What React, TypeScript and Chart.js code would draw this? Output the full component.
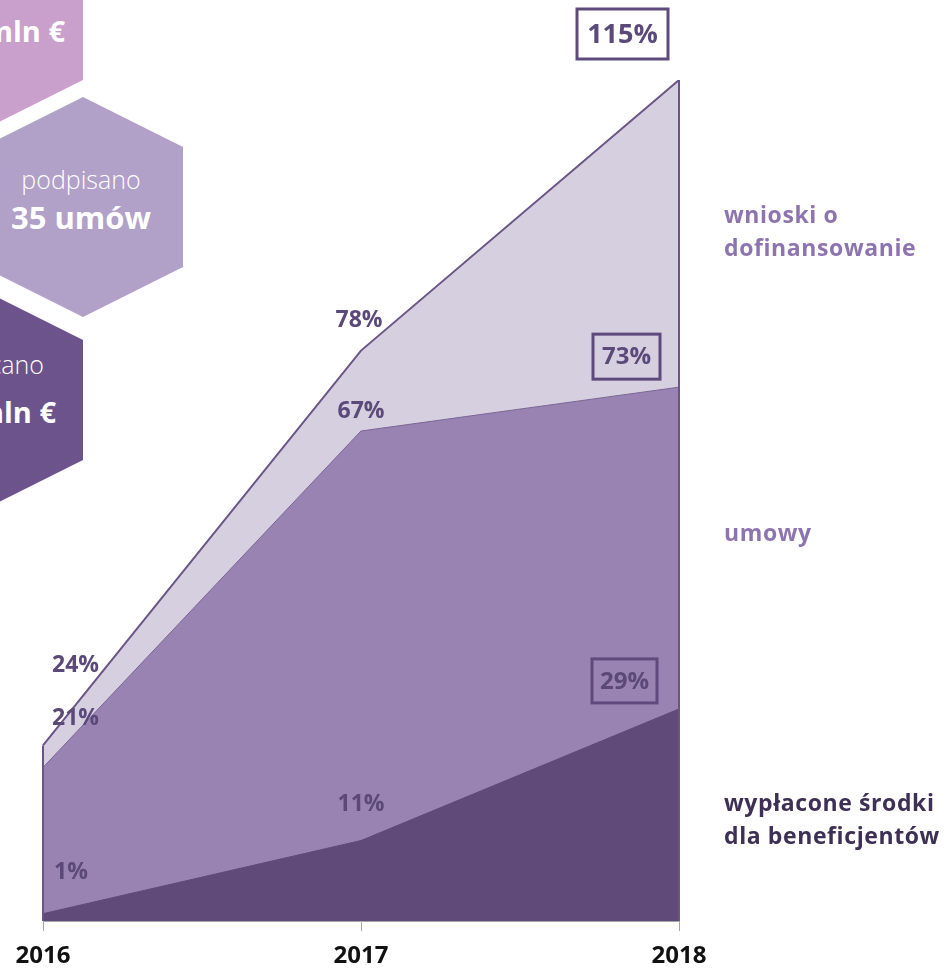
import React, { useEffect, useRef } from "react";
import { Chart, registerables } from "chart.js";

Chart.register(...registerables);

const years = ["2016", "2017", "2018"];
const wnioski = [24, 78, 115];
const umowy = [21, 67, 73];
const wyplacone = [1, 11, 29];

const FONT = "'Open Sans', 'DejaVu Sans', sans-serif";
const LABEL_COLOR = "#5B4979";

// label placement relative to each data point (styling only)
type Spec = { dx: number; dy: number; align: CanvasTextAlign; size: number; box?: [number, number] };
const LABEL_LAYOUT: Spec[][] = [
  // wyplacone
  [
    { dx: 11, dy: -42, align: "left", size: 23 },
    { dx: 0, dy: -37, align: "center", size: 23 },
    { dx: -54.5, dy: -28, align: "center", size: 24, box: [65, 44] },
  ],
  // umowy
  [
    { dx: 9, dy: -50, align: "left", size: 23 },
    { dx: 0, dy: -21, align: "center", size: 23 },
    { dx: -52.5, dy: -30.5, align: "center", size: 24, box: [67, 45] },
  ],
  // wnioski
  [
    { dx: 9, dy: -81, align: "left", size: 23 },
    { dx: -2, dy: -31, align: "center", size: 23 },
    { dx: -56.5, dy: -46, align: "center", size: 27, box: [91, 50] },
  ],
];

const valueLabels = {
  id: "valueLabels",
  afterDatasetsDraw(chart: any) {
    const ctx = chart.ctx as CanvasRenderingContext2D;
    chart.data.datasets.forEach((ds: any, di: number) => {
      const meta = chart.getDatasetMeta(di);
      meta.data.forEach((pt: any, i: number) => {
        const spec = LABEL_LAYOUT[di][i];
        const x = pt.x + spec.dx;
        const y = pt.y + spec.dy;
        ctx.save();
        if (spec.box) {
          ctx.strokeStyle = "#5E4A7C";
          ctx.lineWidth = 3;
          ctx.strokeRect(x - spec.box[0] / 2, y - spec.box[1] / 2, spec.box[0], spec.box[1]);
        }
        ctx.fillStyle = LABEL_COLOR;
        ctx.font = `bold ${spec.size}px ${FONT}`;
        ctx.textAlign = spec.align;
        ctx.textBaseline = "middle";
        ctx.fillText(ds.data[i] + "%", x, y + 1);
        ctx.restore();
      });
    });
  },
};

const outline = {
  id: "outline",
  afterDatasetsDraw(chart: any) {
    const ctx = chart.ctx as CanvasRenderingContext2D;
    const meta = chart.getDatasetMeta(2);
    const base = chart.scales.y.getPixelForValue(0);
    const pts = meta.data;
    ctx.save();
    ctx.strokeStyle = "#6A5585";
    ctx.lineWidth = 2;
    ctx.beginPath();
    ctx.moveTo(pts[0].x, base);
    ctx.lineTo(pts[0].x, pts[0].y);
    ctx.moveTo(pts[pts.length - 1].x, pts[pts.length - 1].y);
    ctx.lineTo(pts[pts.length - 1].x, base);
    ctx.stroke();
    ctx.restore();
  },
};

function Hexagons() {
  const hex = (cx: number, top: number) => {
    const pts = [
      [cx, top],
      [cx + 100, top + 50],
      [cx + 100, top + 170],
      [cx, top + 220],
      [cx - 100, top + 170],
      [cx - 100, top + 50],
    ];
    return pts.map((p) => p.join(",")).join(" ");
  };
  return (
    <svg
      width={948}
      height={971}
      style={{ position: "absolute", left: 0, top: 0 }}
    >
      <polygon points={hex(-17, -90)} fill="#C8A0CB" />
      <polygon points={hex(83, 97)} fill="#B1A0C7" />
      <polygon points={hex(-17, 290)} fill="#6C538B" />
      <text x={65} y={42} textAnchor="end" fill="#fff" fontFamily={FONT} fontWeight={700} fontSize={29}>
        mln €
      </text>
      <text x={81} y={189} textAnchor="middle" fill="#fff" fontFamily={FONT} fontWeight={300} fontSize={25}>
        podpisano
      </text>
      <text x={81} y={229} textAnchor="middle" fill="#fff" fontFamily={FONT} fontWeight={700} fontSize={31}>
        35 umów
      </text>
      <text x={44} y={374} textAnchor="end" fill="#fff" fontFamily={FONT} fontWeight={300} fontSize={25}>
        wypłacano
      </text>
      <text x={56} y={423} textAnchor="end" fill="#fff" fontFamily={FONT} fontWeight={700} fontSize={29}>
        mln €
      </text>
    </svg>
  );
}

const sideLabel: React.CSSProperties = {
  position: "absolute",
  left: 724,
  fontFamily: FONT,
  fontWeight: 700,
  fontSize: 23,
  letterSpacing: "0.6px",
  lineHeight: "33px",
  whiteSpace: "nowrap",
};

export default function App() {
  const ref = useRef<HTMLCanvasElement>(null);
  useEffect(() => {
    if (!ref.current) return;
    const chart = new Chart(ref.current, {
      type: "line",
      data: {
        labels: years,
        datasets: [
          {
            label: "wypłacone środki dla beneficjentów",
            data: wyplacone,
            backgroundColor: "#5F4A7A",
            borderColor: "#5F4A7A",
            borderWidth: 1,
            fill: "origin",
            pointRadius: 0,
            tension: 0,
          },
          {
            label: "umowy",
            data: umowy,
            backgroundColor: "#9983B2",
            borderColor: "#7A6596",
            borderWidth: 1,
            fill: "origin",
            pointRadius: 0,
            tension: 0,
          },
          {
            label: "wnioski o dofinansowanie",
            data: wnioski,
            backgroundColor: "#D6CFDF",
            borderColor: "#6A5585",
            borderWidth: 2,
            fill: "origin",
            pointRadius: 0,
            tension: 0,
          },
        ],
      },
      options: {
        responsive: false,
        animation: false,
        devicePixelRatio: 1,
        layout: { padding: { left: 43, right: 269, top: 80, bottom: 0 } },
        plugins: { legend: { display: false }, tooltip: { enabled: false } },
        scales: {
          y: { display: false, min: 0, max: 115 },
          x: {
            offset: false,
            grid: { drawOnChartArea: false, drawTicks: true, tickLength: 10, color: "#A6A6A6" },
            border: { color: "#A6A6A6", width: 1 },
            ticks: {
              color: "#111",
              padding: 11,
              font: { family: "'Open Sans', sans-serif", size: 24, weight: "bold" },
            },
            afterFit: (scale: any) => {
              scale.height = 50;
            },
          },
        },
      } as any,
      plugins: [valueLabels, outline],
    });
    return () => chart.destroy();
  }, []);
  return (
    <div style={{ position: "absolute", left: 0, top: 0, width: 948, height: 971, background: "#fff" }}>
      <Hexagons />
      <canvas ref={ref} width={948} height={971} style={{ position: "absolute", left: 0, top: 0 }} />
      <div style={{ ...sideLabel, top: 198, color: "#8E74AF" }}>
        wnioski o<br />dofinansowanie
      </div>
      <div style={{ ...sideLabel, top: 516, color: "#8E74AF" }}>umowy</div>
      <div style={{ ...sideLabel, top: 786, color: "#3E2F55" }}>
        wypłacone środki<br />dla beneficjentów
      </div>
    </div>
  );
}
